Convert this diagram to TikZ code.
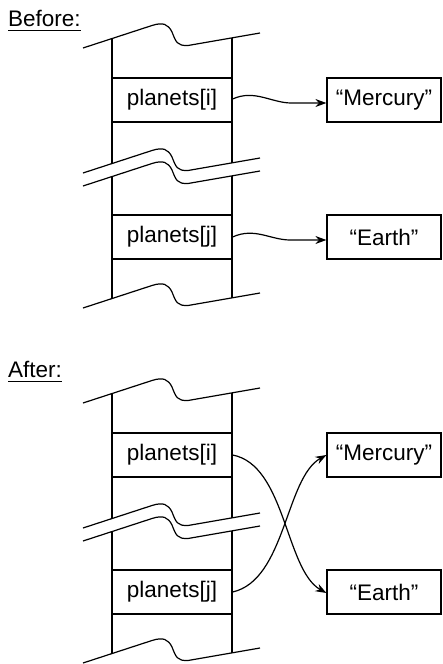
\documentclass[tikz,border=0pt]{standalone}
\usepackage{fontspec}
\setmainfont{Liberation Sans}
\usetikzlibrary{arrows.meta}
\tikzset{
  ln/.style={line width=1.2pt},
  txt/.style={font=\fontsize{22.5}{27}\selectfont},
  cell/.style={draw,ln,txt,minimum width=120pt,minimum height=44pt,inner sep=0pt},
  strbox/.style={draw,ln,txt,minimum width=114pt,minimum height=44pt,inner sep=0pt},
  arr/.style={ln,-{Stealth[length=11pt,width=8pt]}},
  lbl/.style={txt,inner sep=0pt,anchor=base west},
  brkpath/.pic={\draw[ln] (83,48) -- (152,25.5) .. controls (163,22) and (168,24) .. (172,32) .. controls (176,42) and (177,46) .. (188,45.5) -- (260,33);}
}
\begin{document}
\begin{tikzpicture}[x=1pt,y=-1pt]
\useasboundingbox (0,0) rectangle (442,664);
% ---------- Before ----------
\node[lbl] (before) at (8,26.7) {Before:};
\draw[ln] ([yshift=-4pt]before.base west) -- ([yshift=-4pt]before.base east);
\pic at (0,0) {brkpath};
\pic at (0,125) {brkpath};
\pic at (0,138) {brkpath};
\pic at (0,260) {brkpath};
\draw[ln] (112,38.5) -- (112,163.5) (112,176.5) -- (112,298.5);
\draw[ln] (232,37.9) -- (232,162.9) (232,175.9) -- (232,297.9);
\node[cell] (pi) at (172,100) {planets[i]};
\node[cell] (pj) at (172,237) {planets[j]};
\node[strbox] (m) at (384,100) {“Mercury”};
\node[strbox] (e) at (384,237) {“Earth”};
\draw[arr] ([yshift=1pt]pi.east) .. controls +(22,-10) and +(-20,0) .. ([xshift=-35pt,yshift=-3pt]m.west) -- ([yshift=-3pt]m.west);
\draw[arr] ([yshift=0pt]pj.east) .. controls +(22,-10) and +(-20,0) .. ([xshift=-36pt,yshift=-3pt]e.west) -- ([yshift=-3pt]e.west);
% ---------- After ----------
\node[lbl] (after) at (8,377.7) {After:};
\draw[ln] ([yshift=-4pt]after.base west) -- ([yshift=-4pt]after.base east);
\begin{scope}[yshift=-355pt]
\pic at (0,0) {brkpath};
\pic at (0,125) {brkpath};
\pic at (0,138) {brkpath};
\pic at (0,260) {brkpath};
\draw[ln] (112,38.5) -- (112,163.5) (112,176.5) -- (112,298.5);
\draw[ln] (232,37.9) -- (232,162.9) (232,175.9) -- (232,297.9);
\node[cell] (pi2) at (172,100) {planets[i]};
\node[cell] (pj2) at (172,237) {planets[j]};
\node[strbox] (m2) at (384,100) {“Mercury”};
\node[strbox] (e2) at (384,237) {“Earth”};
\end{scope}
\draw[arr] (pi2.east) .. controls +(53,10) and +(-41,-23) .. ([yshift=-1pt]e2.west);
\draw[arr] (pj2.east) .. controls +(53,-12) and +(-41,23) .. (m2.west);
\end{tikzpicture}
\end{document}
